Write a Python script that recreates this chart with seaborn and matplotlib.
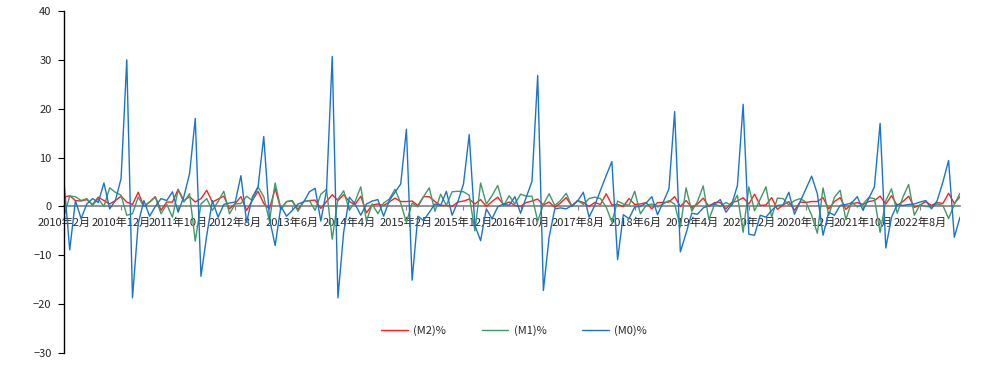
import numpy as np
import pandas as pd
import matplotlib
matplotlib.use("Agg")
import matplotlib.pyplot as plt
import seaborn as sns

# monthly change (%), 2010-02 .. 2023-03
months = pd.date_range("2010-02-01", periods=158, freq="MS")

m2 = [1.9, 2.2, 1.2, 1.1, 1.4, 0.4, 1.9, 1.2, 0.5, 1.2,
      2.1, 0.9, 0.4, 2.9, 0.0, 0.9, 2.0, -0.8, 0.9, 0.9,
      3.5, 1.2, 2.0, 0.9, 1.6, 3.3, 0.9, 1.5, 2.1, -0.5,
      0.6, 2.0, -0.8, 1.2, 3.1, 0.6, -0.5, 3.7, -0.6, 1.0,
      1.1, -0.6, 1.0, 1.2, 1.3, -0.4, 1.0, 2.4, 1.2, 2.4,
      1.0, 0.4, 2.1, -1.3, 0.3, 0.5, 0.2, 0.9, 1.7, 1.0,
      1.0, 1.1, 0.2, 2.0, 2.0, 1.0, 0.2, 0.2, 0.0, 0.9,
      1.1, 1.5, 0.5, 1.4, 0.0, 1.0, 1.9, 0.4, 0.9, 0.2,
      0.0, 0.8, 1.1, 1.5, 0.3, 0.9, -0.2, 0.7, 1.8, 0.0,
      1.2, 0.8, 0.0, 0.8, 0.4, 2.6, 0.3, 0.4, 0.0, 1.6,
      0.4, 0.5, 0.8, -0.5, 0.8, 0.8, 0.9, 2.0, 0.0, 1.2,
      -0.2, 0.5, 1.7, 0.0, 0.8, 0.8, -0.5, 0.8, 1.1, 1.8,
      0.5, 2.5, 0.2, 0.3, 1.8, -0.6, 0.3, 1.0, -0.8, 0.9,
      0.8, 1.0, 1.0, 1.8, -0.5, 1.0, 1.8, -0.6, 0.5, 0.8,
      0.4, 1.0, 1.2, 2.1, 0.5, 2.2, 0.2, 1.0, 2.1, -0.2,
      0.3, 1.0, 0.2, 0.8, 0.6, 2.7, 0.6, 2.0]

m1 = [-2.0, 2.1, 2.0, 1.2, 1.6, 0.2, 1.6, 0.0, 3.8, 2.9,
      2.3, -1.8, -1.5, 1.9, 0.0, 0.9, 1.9, -1.5, 0.4, -2.2,
      3.4, 0.9, 2.6, -7.1, 0.5, 1.6, -0.8, 1.0, 3.1, -1.5,
      0.5, 0.6, 2.1, 1.2, 4.0, 2.0, -3.0, 4.8, -0.5, 1.0,
      1.2, -1.0, 1.0, 1.2, -0.8, 2.5, 3.5, -6.7, 1.5, 3.2,
      -0.8, 1.0, 4.0, -3.0, 0.5, -1.5, 0.7, 1.5, 3.5, 0.7,
      -3.3, 0.7, -0.1, 2.0, 3.8, -1.0, 2.5, 0.2, 3.0, 3.1,
      3.0, 2.3, -5.0, 4.8, 0.5, 2.2, 4.3, 0.1, 2.2, 0.5,
      2.5, 2.1, 2.1, -3.0, 0.4, 2.6, 0.2, 1.2, 2.7, 0.0,
      1.2, 0.4, 1.6, 1.9, 1.6, -0.1, -3.2, 1.1, 0.5, 0.2,
      3.1, -1.5, 0.2, 0.5, -0.1, 0.5, 1.2, 0.5, -4.2, 3.8,
      -1.0, 1.0, 4.2, -2.7, 0.5, 0.0, 0.8, 0.2, 2.3, -5.3,
      4.0, -0.9, 1.5, 4.0, -2.2, 1.7, 1.6, 0.3, 1.2, 1.6,
      0.9, -1.8, -5.5, 3.8, -1.8, 1.9, 3.3, -2.7, 0.9, -0.1,
      0.5, 1.8, 1.6, -5.3, 1.2, 3.6, -1.4, 1.9, 4.5, -1.8,
      0.4, 0.0, -0.1, 0.5, 0.2, -2.5, 0.4, 2.7]

m0 = [5.0, -8.9, 1.2, -2.5, 0.5, 1.6, 0.8, 4.8, -0.5, 1.2,
      5.7, 30.0, -18.7, -3.5, 1.2, -2.0, 0.0, 1.6, 1.2, 3.0,
      -1.2, 2.0, 6.7, 18.0, -14.3, -6.0, 1.2, -2.2, 0.4, 0.7,
      0.9, 6.3, -3.2, 1.9, 4.0, 14.3, -2.5, -8.0, 0.0, -2.0,
      -0.8, 0.5, 0.9, 3.0, 3.7, -3.0, 3.3, 30.7, -18.7, -5.3,
      1.9, 0.5, -1.8, 0.5, 1.1, 1.4, -2.0, 1.2, 2.9, 4.6,
      15.8, -15.1, -2.0, -2.9, -1.2, 0.5, 0.2, 3.1, -1.8, 0.9,
      4.6, 14.7, -3.9, -7.0, -0.5, -2.5, -0.1, 0.5, 0.2, 2.0,
      -1.4, 1.9, 5.1, 26.8, -17.2, -6.3, -0.5, -0.3, -0.5, 0.2,
      1.1, 2.9, -2.2, 0.2, 3.3, 6.3, 9.2, -10.9, -1.7, -2.5,
      -0.1, 0.0, 0.7, 2.0, -1.7, 0.9, 3.6, 19.4, -9.3, -5.5,
      -1.4, -1.6, -0.3, 0.2, 0.5, 1.4, -1.2, 0.4, 4.3, 20.9,
      -5.7, -5.9, -1.8, -2.2, -0.8, 0.2, 0.3, 2.9, -1.6, 1.0,
      3.6, 6.2, 2.6, -5.9, -1.2, -1.8, 0.2, 0.4, 0.7, 2.0,
      -0.8, 1.6, 4.0, 17.0, -8.5, -2.2, 0.4, 0.2, 0.4, 0.5,
      0.9, 1.2, -0.5, 1.2, 5.0, 9.4, -6.3, -2.2]

series_names = ["(M2)%", "(M1)%", "(M0)%"]
colors = ["#FF1F1F", "#3F9A68", "#1A75C8"]

df = pd.DataFrame({"idx": np.arange(len(months)),
                   series_names[0]: m2,
                   series_names[1]: m1,
                   series_names[2]: m0})
long = df.melt(id_vars="idx", var_name="series", value_name="value")

sns.set_style("white")
plt.rcParams["font.family"] = ["Noto Sans CJK SC", "DejaVu Sans"]

fig = plt.figure(figsize=(9.83, 3.82), dpi=100)
ax = fig.add_axes([64 / 983, 29 / 382, 896 / 983, 342 / 382])

sns.lineplot(data=long, x="idx", y="value", hue="series",
             palette=dict(zip(series_names, colors)), linewidth=1.0,
             ax=ax, legend=True)

ax.set_xlim(0, len(months) - 1)
ax.set_ylim(-30, 40)
ax.set_yticks(range(-30, 41, 10))
ax.set_xlabel("")
ax.set_ylabel("")

tick_pos = list(range(0, len(months), 10))
tick_lab = [f"{months[i].year}年{months[i].month}月" for i in tick_pos]
ax.set_xticks(tick_pos)
ax.set_xticklabels(tick_lab)

ax.spines["top"].set_visible(False)
ax.spines["right"].set_visible(False)
ax.spines["bottom"].set_position(("data", 0))
ax.spines["bottom"].set_color("#808080")
ax.spines["bottom"].set_linewidth(1.2)
ax.spines["bottom"].set_zorder(0)
ax.spines["left"].set_color("black")
ax.spines["left"].set_linewidth(1.0)

ax.tick_params(axis="x", direction="out", length=3, color="#808080",
               labelsize=8, pad=5, bottom=True)
ax.tick_params(axis="y", direction="out", length=4, color="black",
               labelsize=8, pad=5, left=True)

handles, labels = ax.get_legend_handles_labels()
ax.get_legend().remove()
fig.legend(handles, labels, loc="center", bbox_to_anchor=(0.523, 0.134),
           ncol=3, frameon=False, fontsize=8, handlelength=2.4,
           handletextpad=0.5, columnspacing=3.2)

fig.savefig("out.png", dpi=100)
